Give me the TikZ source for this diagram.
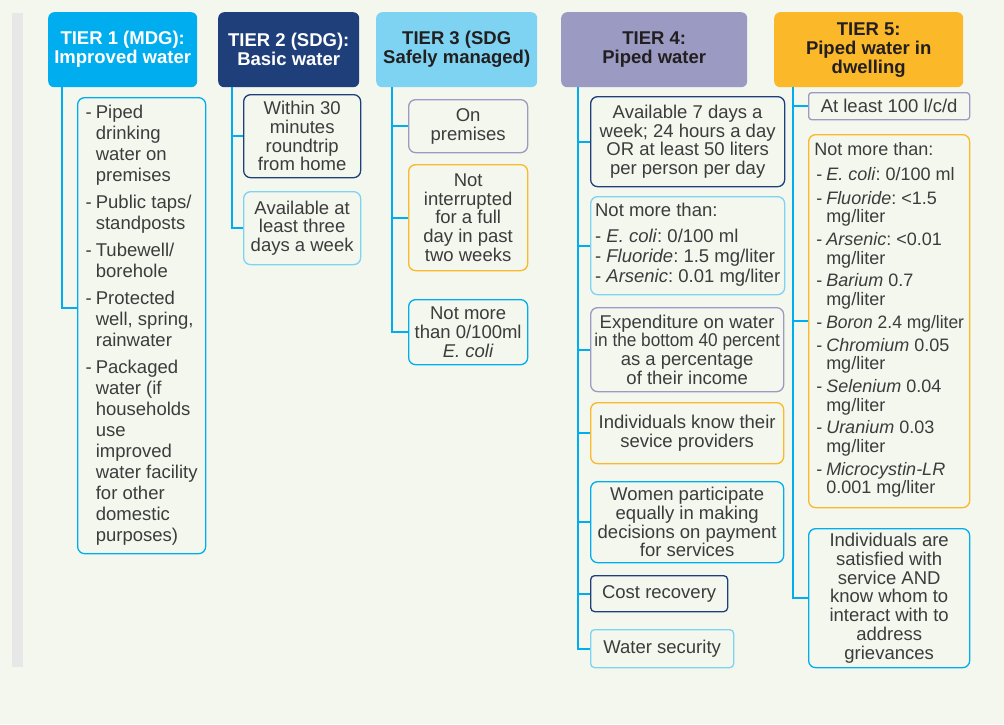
\documentclass[tikz,border=0pt]{standalone}
\usepackage{fontspec}
\setmainfont{Liberation Sans}
\usepackage{graphicx}
\usepackage{tikz}
\frenchspacing

\definecolor{bgcol}{HTML}{F3F7EE}
\definecolor{barcol}{HTML}{E6E7E6}
\definecolor{tcyan}{HTML}{00AEEF}
\definecolor{tnavy}{HTML}{1F3F7B}
\definecolor{tlight}{HTML}{7DD3F1}
\definecolor{tlav}{HTML}{9A9AC2}
\definecolor{torange}{HTML}{FBB829}
\definecolor{txt}{HTML}{3C3C3C}
\definecolor{hdtxt}{HTML}{231F20}

\begin{document}
\begin{tikzpicture}[x=1pt,y=-1pt,
  hdr/.style={rounded corners=6pt, anchor=north west, inner sep=0pt, align=center,
    font=\fontsize{18.5}{19}\selectfont\bfseries},
  box/.style={draw=#1, line width=1.3pt, rounded corners=7pt, anchor=north west,
    inner sep=0pt, align=center, text=txt, fill=bgcol, font=\fontsize{18.5}{18.7}\selectfont},
  conn/.style={draw=tcyan, line width=1.8pt}]

%Shape: background and side bar
\fill[bgcol] (0,0) rectangle (1004,724);
\fill[barcol] (12,13) rectangle (23,667);

% Header Nodes
\node[hdr, fill=tcyan, text=white, minimum width=149pt, minimum height=75pt] (h1) at (48,12) {TIER 1 (MDG):\\Improved water};
\node[hdr, fill=tnavy, text=white, minimum width=141pt, minimum height=75pt] (h2) at (218,12) {TIER 2 (SDG):\\Basic water};
\node[hdr, fill=tlight, text=hdtxt, minimum width=161pt, minimum height=75pt] (h3) at (376,12) {TIER 3 (SDG\\Safely managed)};
\node[hdr, fill=tlav, text=hdtxt, minimum width=186pt, minimum height=75pt] (h4) at (561,12) {TIER 4:\\Piped water};
\node[hdr, fill=torange, text=hdtxt, minimum width=189pt, minimum height=75pt] (h5) at (774,12) {TIER 5:\\Piped water in\\dwelling};

% Tier 1
\node[box=tcyan, minimum width=128pt, minimum height=456pt, font=\fontsize{18.5}{21}\selectfont] (b11) at (77,97) {%
\begin{tabular}{@{}l@{\hspace{4pt}}l@{}}
- & Piped\\ & drinking\\ & water on\\ & premises\\[6pt]
- & Public taps/\\ & standposts\\[6pt]
- & Tubewell/\\ & borehole\\[6pt]
- & Protected\\ & well, spring,\\ & rainwater\\[6pt]
- & Packaged\\ & water (if\\ & households\\ & use\\ & improved\\ & water facility\\ & for other\\ & domestic\\ & purposes)
\end{tabular}};

% Tier 2
\node[box=tnavy, minimum width=117pt, minimum height=83pt] (b21) at (243,94) {Within 30\\minutes\\roundtrip\\from home};
\node[box=tlight, minimum width=117pt, minimum height=73pt] (b22) at (243,191) {Available at\\least three\\days a week};

% Tier 3
\node[box=tlav, minimum width=119pt, minimum height=53pt] (b31) at (408,99) {On\\premises};
\node[box=torange, minimum width=119pt, minimum height=106pt] (b32) at (408,164) {Not\\interrupted\\for a full\\day in past\\two weeks};
\node[box=tcyan, minimum width=119pt, minimum height=65pt] (b33) at (408,299) {Not more\\than 0/100ml\\\textit{E. coli}};

% Tier 4
\node[box=tnavy, minimum width=194pt, minimum height=90pt] (b41) at (590,96) {Available 7 days a\\week; 24 hours a day\\OR at least 50 liters\\per person per day};
\node[box=tlight, minimum width=194pt, minimum height=98pt] (b42) at (590,196) {%
\begin{tabular}{@{}l@{}}
Not more than:\\[7pt]
- \textit{E. coli}: 0/100 ml\\[1pt]
- \textit{Fluoride}: 1.5 mg/liter\\[1pt]
- \textit{Arsenic}: 0.01 mg/liter
\end{tabular}};
\node[box=tlav, minimum width=193pt, minimum height=84pt] (b43) at (590,307) {Expenditure on water\\\scalebox{0.93}[1]{in the bottom 40 percent}\\as a percentage\\of their income};
\node[box=torange, minimum width=193pt, minimum height=61pt] (b44) at (590,402) {Individuals know their\\sevice providers};
\node[box=tcyan, minimum width=193pt, minimum height=81pt] (b45) at (590,481) {Women participate\\equally in making\\decisions on payment\\for services};
\node[box=tnavy, rounded corners=4pt, minimum width=137pt, minimum height=36pt] (b46) at (590,575) {Cost recovery};
\node[box=tlight, rounded corners=4pt, minimum width=143pt, minimum height=38pt] (b47) at (590,629) {Water security};

% Tier 5
\node[box=tlav, rounded corners=3pt, minimum width=161pt, minimum height=27pt] (b51) at (808,92) {At least 100 l/c/d};
\node[box=torange, minimum width=161pt, minimum height=373pt, font=\fontsize{18}{18.7}\selectfont] (b52) at (808,134) {%
\begin{tabular}{@{\hspace{2pt}}l@{\hspace{4pt}}l@{}}
\multicolumn{2}{@{}l@{}}{Not more than:}\\[6pt]
- & \textit{E. coli}: 0/100 ml\\[5pt]
- & \textit{Fluoride}: <1.5\\ & mg/liter\\[4pt]
- & \textit{Arsenic}: <0.01\\ & mg/liter\\[4pt]
- & \textit{Barium} 0.7\\ & mg/liter\\[4pt]
- & \scalebox{0.97}[1]{\textit{Boron} 2.4 mg/liter}\\[4pt]
- & \textit{Chromium} 0.05\\ & mg/liter\\[4pt]
- & \textit{Selenium} 0.04\\ & mg/liter\\[4pt]
- & \textit{Uranium} 0.03\\ & mg/liter\\[4pt]
- & \textit{Microcystin-LR}\\ & 0.001 mg/liter
\end{tabular}};
\node[box=tcyan, minimum width=161pt, minimum height=139pt] (b53) at (808,528) {Individuals are\\satisfied with\\service AND\\know whom to\\interact with to\\address\\grievances};

% Tree roots
\coordinate (r1) at ([xshift=14pt]h1.south west);
\coordinate (r2) at ([xshift=14pt]h2.south west);
\coordinate (r3) at ([xshift=16pt]h3.south west);
\coordinate (r4) at ([xshift=17pt]h4.south west);
\coordinate (r5) at ([xshift=19pt]h5.south west);

% Connectors
\draw[conn] (r1) |- ([yshift=18pt]b11.west);
\foreach \b in {b21,b22} \draw[conn] (r2) |- (\b.west);
\foreach \b in {b31,b32,b33} \draw[conn] (r3) |- (\b.west);
\foreach \b in {b41,b42,b43,b44,b45,b46,b47} \draw[conn] (r4) |- (\b.west);
\foreach \b in {b51,b52,b53} \draw[conn] (r5) |- (\b.west);

\end{tikzpicture}
\end{document}
